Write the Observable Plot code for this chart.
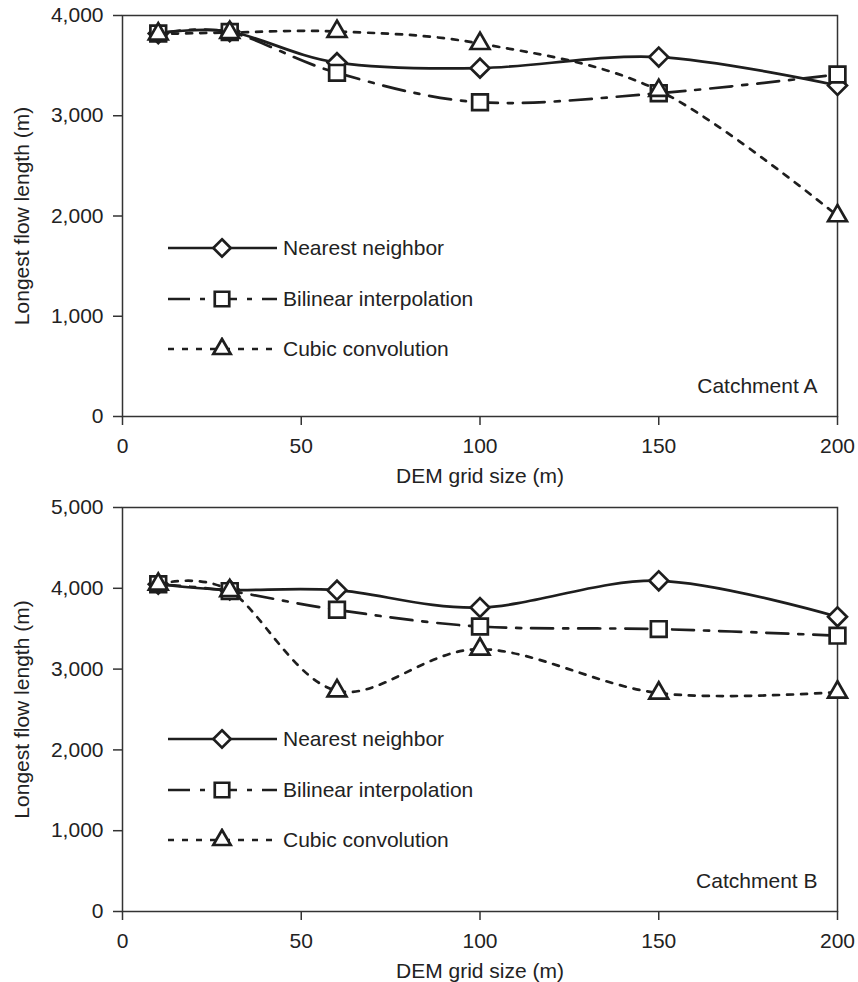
<!DOCTYPE html>
<html><head><meta charset="utf-8">
<script src="https://cdn.jsdelivr.net/npm/d3@7"></script>
<script src="https://cdn.jsdelivr.net/npm/@observablehq/plot@0.6"></script>
<style>
body{margin:0;background:#fff;font-family:Arial,"Liberation Sans",sans-serif;}
.panel{position:relative;width:858px;height:491px;}
.panel svg.plot{display:block;}
.lrow{position:absolute;display:flex;align-items:center;white-space:nowrap;font-size:21px;color:#222;font-family:Arial,"Liberation Sans",sans-serif;}
.lrow span{margin-left:6px;}
</style></head><body><div id="chart"></div>
<script>
// ---- data ----
const gridSizes = [10, 30, 60, 100, 150, 200];
const methods = ["Nearest neighbor", "Bilinear interpolation", "Cubic convolution"];
const xTicks = [0, 50, 100, 150, 200];

const catchmentA_nearest  = [3820, 3840, 3530, 3475, 3585, 3302];
const catchmentA_bilinear = [3820, 3835, 3428, 3135, 3225, 3411];
const catchmentA_cubic    = [3815, 3830, 3840, 3720, 3252, 2002];
const yTicksA = [0, 1000, 2000, 3000, 4000];

const catchmentB_nearest  = [4050, 3980, 3977, 3762, 4093, 3647];
const catchmentB_bilinear = [4050, 3965, 3734, 3527, 3495, 3414];
const catchmentB_cubic    = [4050, 3970, 2731, 3247, 2703, 2715];
const yTicksB = [0, 1000, 2000, 3000, 4000, 5000];

const panelLabels = ["Catchment A", "Catchment B"];

// ---- styles ----
const ink = "#1e1e1e";
const styles = {
  "Nearest neighbor":       {dash: null,         symbol: "diamond2",  d3sym: d3.symbolDiamond2,  r: 8.5},
  "Bilinear interpolation": {dash: "22,10,5,10", symbol: "square2",   d3sym: d3.symbolSquare2,   r: 10},
  "Cubic convolution":      {dash: "6,8",        symbol: "triangle2", d3sym: d3.symbolTriangle2, r: 9}
};

function toRows(seriesArrays) {
  const rows = [];
  methods.forEach((m, i) => gridSizes.forEach((g, j) => rows.push({method: m, grid: g, value: seriesArrays[i][j]})));
  return rows;
}

function makePanel(seriesArrays, yTicks, label, marginTop, marginBottom) {
  const rows = toRows(seriesArrays);
  const marks = [
    Plot.frame({stroke: "#333", strokeWidth: 1.5}),
    Plot.axisY({ticks: yTicks, tickFormat: d3.format(","), tickSize: 9, tickPadding: 10, fontSize: 21,
      label: "Longest flow length (m)", labelAnchor: "center", labelOffset: 108, labelArrow: "none",
      stroke: "#333", strokeWidth: 1.5}),
    Plot.axisX({ticks: xTicks, tickSize: 9, tickPadding: 13, fontSize: 21,
      label: "DEM grid size (m)", labelAnchor: "center", labelOffset: 66, labelArrow: "none",
      stroke: "#333", strokeWidth: 1.5}),
    Plot.text([label], {text: d => d, frameAnchor: "bottom-right", textAnchor: "end", dx: -20, dy: -24, fontSize: 21, fill: "#222"})
  ];
  for (const m of methods) {
    const st = styles[m];
    const data = rows.filter(d => d.method === m);
    marks.push(Plot.line(data, {x: "grid", y: "value", curve: "cardinal", stroke: ink, strokeWidth: 2.7,
      strokeDasharray: st.dash || undefined}));
    marks.push(Plot.dot(data, {x: "grid", y: "value", symbol: () => st.symbol, r: st.r, fill: "white", stroke: ink, strokeWidth: 2.7}));
  }
  const plot = Plot.plot({
    width: 858, height: 491,
    marginLeft: 122, marginRight: 21, marginTop, marginBottom,
    x: {domain: [0, 200]},
    y: {domain: [0, d3.max(yTicks)]},
    symbol: {type: "identity"},
    style: {fontSize: "21px", fontFamily: "Arial, 'Liberation Sans', sans-serif", color: "#222", background: "white"},
    marks
  });
  const wrap = document.createElement("div");
  wrap.className = "panel";
  wrap.appendChild(plot);
  // legend overlay
  const rowCenters = [248, 298.5, 349];
  methods.forEach((m, i) => {
    const st = styles[m];
    const row = document.createElement("div");
    row.className = "lrow";
    row.style.left = "168px";
    row.style.top = (rowCenters[i] - 12) + "px";
    row.style.height = "24px";
    const svg = d3.create("svg").attr("width", 109).attr("height", 24);
    svg.append("line").attr("x1", 0).attr("x2", 109).attr("y1", 12).attr("y2", 12)
      .attr("stroke", ink).attr("stroke-width", 2.7).attr("stroke-dasharray", st.dash);
    svg.append("path").attr("transform", "translate(54,12)")
      .attr("d", d3.symbol(st.d3sym, Math.PI * st.r * st.r * 0.85)())
      .attr("fill", "white").attr("stroke", ink).attr("stroke-width", 2.7);
    row.appendChild(svg.node());
    const t = document.createElement("span");
    t.textContent = m;
    row.appendChild(t);
    wrap.appendChild(row);
  });
  return wrap;
}

const chart = document.getElementById("chart");
chart.appendChild(makePanel([catchmentA_nearest, catchmentA_bilinear, catchmentA_cubic], yTicksA, panelLabels[0], 15, 75));
chart.appendChild(makePanel([catchmentB_nearest, catchmentB_bilinear, catchmentB_cubic], yTicksB, panelLabels[1], 16, 71));
</script></body></html>
